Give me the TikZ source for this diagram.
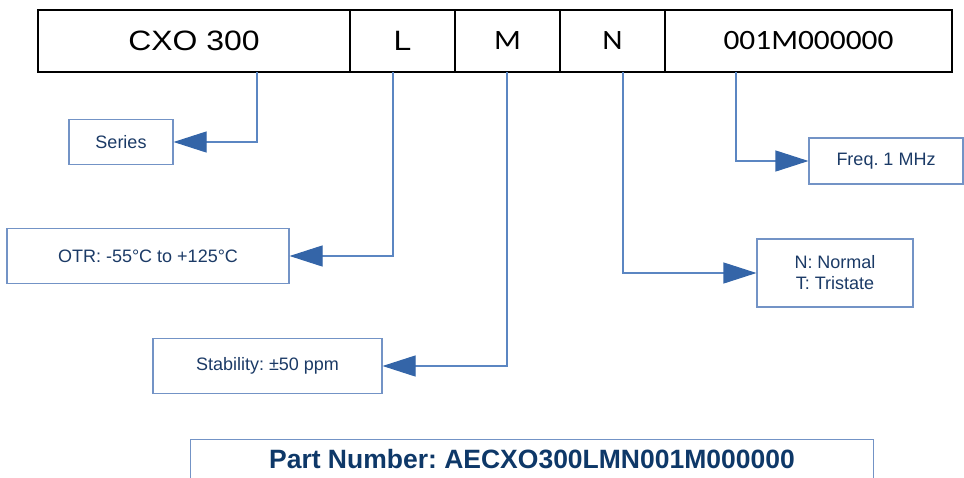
\documentclass[tikz,border=0pt]{standalone}
\usepackage{fontspec}
\setmainfont{Liberation Sans}
\newfontfamily\calibrifont{Carlito}
\usepackage{xcolor}
\usetikzlibrary{arrows.meta, positioning}

\definecolor{boxblue}{HTML}{7393C6}
\definecolor{wireblue}{HTML}{5B86C2}
\definecolor{tipblue}{HTML}{3465A8}
\definecolor{textnavy}{HTML}{1B3A66}
\definecolor{partnavy}{HTML}{0E3868}

\tikzset{
	codebox/.style={draw=black, line width=2.2pt, minimum height=62pt, inner sep=0pt,
		font=\fontsize{28}{34}\selectfont},
	infobox/.style={draw=boxblue, line width=1.1pt, inner sep=0pt, align=center,
		text=textnavy, font=\fontsize{18}{21}\selectfont\frenchspacing},
	wire/.style={draw=wireblue, line width=1.1pt,
		-{Triangle[length=33pt, width=21pt, color=tipblue]}}
}

\begin{document}
\begin{tikzpicture}[x=1pt, y=-1pt]
			\useasboundingbox (0, 0) rectangle (964, 477);
			% Code boxes:
			\node[codebox, minimum width=312pt](C1) at (194, 41){\scalebox{1.14}[1]{CXO 300}};
			\node[codebox, minimum width=105pt](C2) at (402.5, 41){\scalebox{1.14}[1]{L}};
			\node[codebox, minimum width=105pt](C3) at (507.5, 41){\scalebox{1.12}[1]{\calibrifont M}};
			\node[codebox, minimum width=105pt](C4) at (612.5, 41){\scalebox{1.12}[1]{\calibrifont N}};
			\node[codebox, minimum width=287pt](C5) at (808.5, 41){\scalebox{1.12}[1]{\calibrifont 001M000000}};
			% Description boxes:
			\node[infobox, minimum width=104pt, minimum height=45pt](D1) at (121, 142){Series};
			\node[infobox, minimum width=282pt, minimum height=55pt](D2) at (148, 256){OTR: -55°C to +125°C};
			\node[infobox, minimum width=229pt, minimum height=55pt](D3) at (267.5, 366){Stability: ±50 ppm};
			\node[infobox, minimum width=156pt, minimum height=68pt](D4) at (835, 273){N: Normal\\T: Tristate};
			\node[infobox, minimum width=154pt, minimum height=46pt](D5) at (886, 161){Freq. 1 MHz};
			% Wire start points:
			\coordinate (W1) at (257, 72);
			\coordinate (W2) at (393, 72);
			\coordinate (W3) at (507, 72);
			\coordinate (W4) at (623, 72);
			\coordinate (W5) at (736, 72);
			% Paths:
			\draw[wire] (W1) |- (D1.east);
			\draw[wire] (W2) |- (D2.east);
			\draw[wire] (W3) |- (D3.east);
			\draw[wire] (W4) |- (D4.west);
			\draw[wire] (W5) |- (D5.west);
			% Part number:
			\node[minimum width=682pt, minimum height=39pt, inner sep=0pt, text=partnavy,
				font=\fontsize{26.5}{30}\selectfont\bfseries\frenchspacing](P1) at (532, 459){Part Number: AECXO300LMN001M000000};
			\draw[boxblue, line width=1.1pt] (P1.south west) -- (P1.north west) -- (P1.north east) -- (P1.south east);
		\end{tikzpicture}
\end{document}
